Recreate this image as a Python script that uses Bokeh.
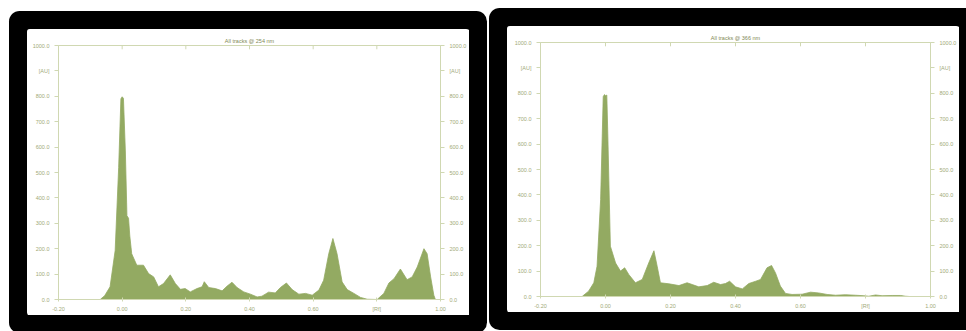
from bokeh.plotting import figure
from bokeh.layouts import row
from bokeh.models import LinearAxis, FixedTicker, Range1d
from bokeh.embed import file_html
from bokeh.resources import INLINE

# ---- data ----
titles = ["All tracks @ 254 nm", "All tracks @ 366 nm"]

rf_254 = [-0.20, -0.10, -0.069, -0.055, -0.038, -0.022, -0.011, -0.004, 0.0, 0.004, 0.010,
          0.015, 0.020, 0.024, 0.030, 0.046, 0.067, 0.083, 0.099, 0.114, 0.130, 0.151,
          0.167, 0.183, 0.198, 0.214, 0.235, 0.251, 0.258, 0.272, 0.293, 0.314, 0.329,
          0.345, 0.361, 0.382, 0.403, 0.424, 0.439, 0.460, 0.481, 0.497, 0.516, 0.534,
          0.555, 0.576, 0.597, 0.618, 0.633, 0.649, 0.662, 0.675, 0.691, 0.707, 0.728,
          0.749, 0.770, 0.801, 0.822, 0.838, 0.854, 0.874, 0.895, 0.911, 0.927, 0.948,
          0.958, 0.969, 0.979, 0.984, 1.00]
au_254 = [0, 0, 0, 15, 50, 193, 520, 790, 798, 792, 585,
          330, 320, 250, 180, 135, 135, 102, 89, 50, 63, 97,
          63, 40, 43, 30, 43, 50, 70, 47, 43, 34, 52,
          68, 47, 30, 21, 10, 13, 29, 26, 47, 65, 39,
          21, 24, 17, 37, 76, 180, 240, 180, 69, 39, 24,
          8, 1, 0, 24, 65, 82, 120, 78, 89, 128, 200,
          180, 89, 17, 0, 0]

rf_366 = [-0.20, -0.10, -0.072, -0.052, -0.036, -0.026, -0.015, -0.007, -0.003, 0.0,
          0.004, 0.007, 0.015, 0.031, 0.046, 0.059, 0.072, 0.092, 0.113, 0.133, 0.149,
          0.159, 0.169, 0.195, 0.226, 0.251, 0.267, 0.287, 0.313, 0.333, 0.354, 0.369,
          0.382, 0.400, 0.421, 0.441, 0.462, 0.477, 0.497, 0.511, 0.523, 0.538, 0.554,
          0.574, 0.605, 0.631, 0.656, 0.682, 0.708, 0.738, 0.769, 0.795, 0.810, 0.831,
          0.851, 0.882, 0.908, 0.923, 0.935, 1.00]
au_366 = [0, 0, 0, 21, 54, 119, 381, 787, 795, 790,
          793, 643, 198, 132, 100, 113, 86, 54, 67, 132, 180,
          119, 54, 50, 43, 54, 47, 38, 43, 56, 47, 51,
          60, 38, 30, 51, 60, 67, 113, 122, 93, 41, 12,
          8, 9, 17, 14, 8, 5, 7, 5, 3, 1, 6,
          3, 4, 4, 1, 0, 0]

x_ticks = [-0.2, 0.0, 0.2, 0.4, 0.6, 0.8, 1.0]
x_tick_labels = ["-0.20", "0.00", "0.20", "0.40", "0.60", "[Rf]", "1.00"]
y_ticks = [0, 100, 200, 300, 400, 500, 600, 700, 800, 900, 1000]
y_tick_labels = ["0.0", "100.0", "200.0", "300.0", "400.0", "500.0", "600.0",
                 "700.0", "800.0", "[AU]", "1000.0"]

FILL = "#93aa62"
AXIS = "#d0d8b2"
LABEL = "#a2aa78"
TITLE = "#7f8a55"
FONT = "Liberation Sans"


def make_panel(title, rf, au, width, border_left, border_right, border_top, border_bottom, margin):
    p = figure(width=width, height=286, output_backend="svg", toolbar_location=None,
               x_range=Range1d(-0.2, 1.0), y_range=Range1d(0, 1000),
               min_border_left=border_left, min_border_right=border_right,
               min_border_top=border_top, min_border_bottom=border_bottom,
               x_axis_location=None, y_axis_location=None)
    p.margin = margin
    p.styles = {"box-shadow": "0 0 0 18px #000", "border-radius": "3px"}
    p.background_fill_color = "white"
    p.border_fill_color = "white"
    p.outline_line_color = AXIS
    p.outline_line_width = 1
    p.xgrid.visible = False
    p.ygrid.visible = False

    p.title.text = title
    p.title.align = "center"
    p.title.text_font = FONT
    p.title.text_font_size = "5.5px"
    p.title.text_font_style = "normal"
    p.title.text_color = TITLE
    p.title.standoff = 4
    p.title.offset = 0

    xmap = {t: l for t, l in zip(x_ticks, x_tick_labels)}
    ymap = {t: l for t, l in zip(y_ticks, y_tick_labels)}

    ax = LinearAxis(ticker=FixedTicker(ticks=x_ticks))
    ax.major_label_overrides = xmap
    ax.axis_line_color = AXIS
    ax.major_tick_line_color = AXIS
    ax.minor_tick_line_color = None
    ax.major_tick_in = 2
    ax.major_tick_out = 2
    ax.major_label_text_font = FONT
    ax.major_label_text_color = LABEL
    ax.major_label_text_font_size = "5.5px"
    ax.major_label_standoff = 4
    p.add_layout(ax, "below")

    for loc in ("left", "right"):
        ax = LinearAxis(ticker=FixedTicker(ticks=y_ticks))
        ax.major_label_overrides = ymap
        ax.axis_line_color = AXIS
        ax.major_tick_line_color = AXIS
        ax.minor_tick_line_color = None
        ax.major_tick_in = 0
        ax.major_tick_out = 4
        ax.major_label_text_font = FONT
        ax.major_label_text_font_size = "5.5px"
        ax.major_label_text_color = LABEL
        ax.major_label_standoff = 5
        p.add_layout(ax, loc)

    p.varea(x=rf, y1=[0] * len(au), y2=au, fill_color=FILL, fill_alpha=1.0)
    p.line(x=rf, y=au, line_color=FILL, line_width=0.8)
    # small tick marks along the top edge, at the x tick positions
    p.segment(x0=x_ticks, y0=[985] * len(x_ticks), x1=x_ticks, y1=[1000] * len(x_ticks),
              line_color=AXIS, line_width=1)
    return p


p1 = make_panel(titles[0], rf_254, au_254, 442, 31, 29, 15, 16, (29, 18, 0, 27))
p2 = make_panel(titles[1], rf_366, au_366, 452, 33, 29, 16, 15, (26, 0, 0, 20))

layout = row(p1, p2)

open("out.html", "w").write(file_html(layout, INLINE))
